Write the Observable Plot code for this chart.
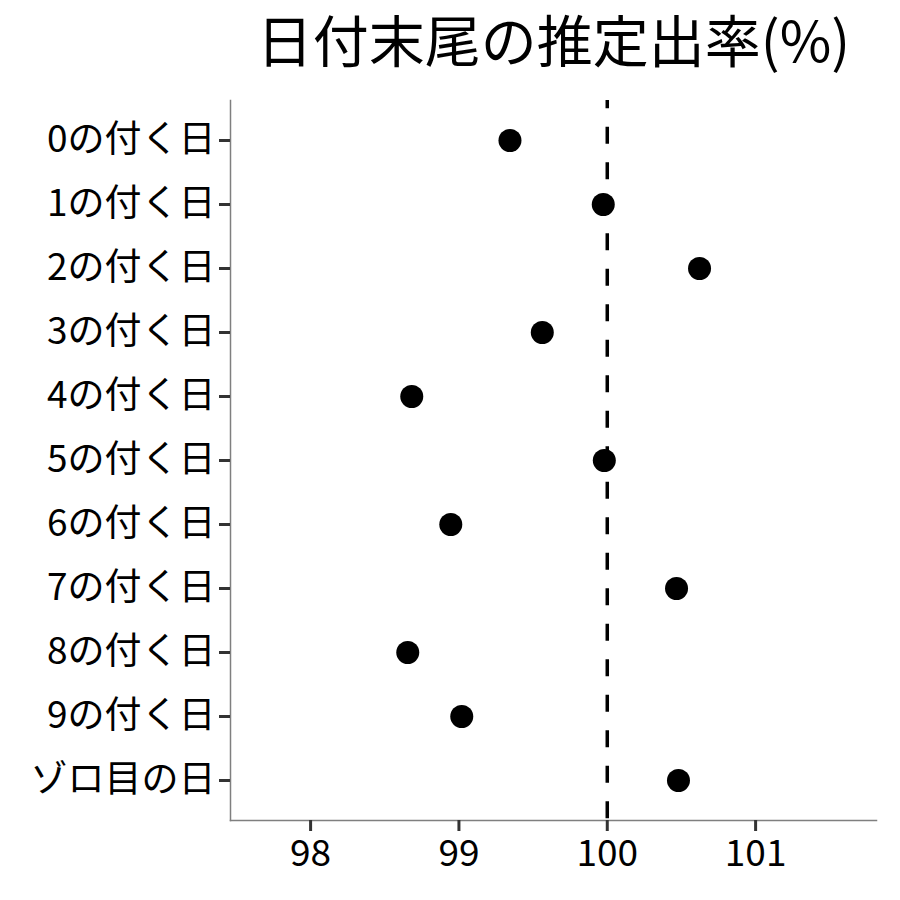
<!DOCTYPE html>
<html>
<head>
<meta charset="utf-8">
<script src="https://cdn.jsdelivr.net/npm/d3@7"></script>
<script src="https://cdn.jsdelivr.net/npm/@observablehq/plot@0.6"></script>
<style>
  body { margin: 0; background: white; }
  svg { font-family: "Noto Sans CJK JP", "Noto Sans", sans-serif; }
</style>
</head>
<body>
<div id="chart"></div>
<script>
const titleText = "日付末尾の推定出率(%)";
const categories = ["0の付く日","1の付く日","2の付く日","3の付く日","4の付く日","5の付く日","6の付く日","7の付く日","8の付く日","9の付く日","ゾロ目の日"];
const rates = [99.344, 99.973, 100.622, 99.562, 98.682, 99.98, 98.945, 100.467, 98.655, 99.019, 100.48];
const xTicks = [98, 99, 100, 101];
const refValue = [100];

const data = categories.map((c, i) => ({label: c, rate: rates[i]}));

const chart = Plot.plot({
  width: 900,
  height: 900,
  marginLeft: 230,
  marginRight: 24,
  marginTop: 100,
  marginBottom: 80,
  style: {fontFamily: '"Noto Sans CJK JP", "Noto Sans", sans-serif', background: "white"},
  x: {domain: [97.46, 101.815], ticks: xTicks, label: null},
  y: {type: "point", domain: categories, padding: 0.6, label: null},
  marks: [
    Plot.frame({anchor: "left", stroke: "#7f7f7f", strokeWidth: 1.5}),
    Plot.frame({anchor: "bottom", stroke: "#7f7f7f", strokeWidth: 1.5}),
    Plot.ruleX(refValue, {stroke: "black", strokeWidth: 3.5, strokeDasharray: "17,18.5", strokeDashoffset: 8.8}),
    Plot.dot(data, {x: "rate", y: "label", r: 11.5, fill: "black", stroke: "none"}),
    Plot.axisY({tickSize: 11, tickPadding: 4, fontSize: 37, stroke: "#333", strokeWidth: 3, fill: "black", label: null}),
    Plot.axisX({ticks: xTicks, tickFormat: d3.format("d"), tickSize: 11, tickPadding: 8, fontSize: 37, stroke: "#333", strokeWidth: 3, fill: "black", label: null}),
    Plot.text([titleText], {text: d => d, frameAnchor: "top", dy: -56, fontSize: 56, lineAnchor: "middle", fill: "black"})
  ]
});
document.getElementById("chart").appendChild(chart);
</script>
</body>
</html>
